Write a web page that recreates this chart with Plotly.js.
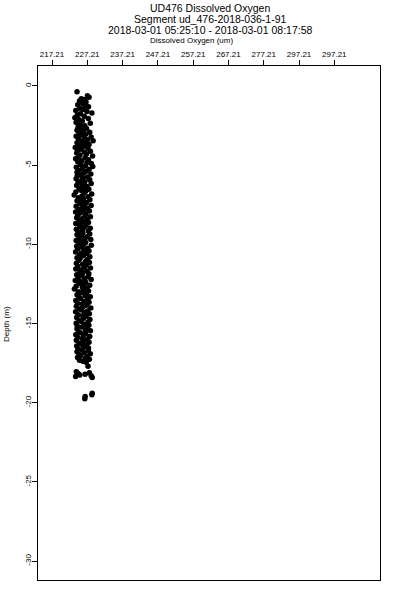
<!DOCTYPE html>
<html>
<head>
<meta charset="utf-8">
<script src="https://cdn.plot.ly/plotly-3.0.1.min.js"></script>
<style>html,body{margin:0;padding:0;background:#fff;}#chart{width:400px;height:600px;}</style>
</head>
<body>
<div id="chart"></div>
<script>
// Depth (m) of each sample
const depth = [
-0.36,-0.62,-0.72,-0.80,-0.86,-0.95,-1.02,-1.10,-1.18,-1.25,
-1.32,-1.40,-1.48,-1.55,-1.62,-1.70,-1.75,-1.85,-1.92,-2.00,
-2.06,-2.14,-2.22,-2.30,-2.36,-2.45,-2.52,-2.60,-2.68,-2.75,
-2.80,-2.86,-2.92,-2.98,-3.05,-3.10,-3.18,-3.22,-3.28,-3.35,
-3.40,-3.46,-3.52,-3.58,-3.64,-3.70,-3.76,-3.82,-3.88,-3.94,
-4.00,-4.06,-4.12,-4.18,-4.24,-4.30,-4.36,-4.42,-4.48,-4.54,
-4.60,-4.66,-4.72,-4.78,-4.84,-4.90,-4.96,-5.02,-5.08,-5.14,
-5.20,-5.26,-5.32,-5.38,-5.44,-5.50,-5.56,-5.62,-5.68,-5.74,
-5.80,-5.86,-5.92,-5.98,-6.04,-6.10,-6.16,-6.22,-6.28,-6.34,
-6.40,-6.46,-6.52,-6.58,-6.64,-6.70,-6.76,-6.82,-6.88,-6.94,
-7.00,-7.06,-7.12,-7.18,-7.24,-7.30,-7.36,-7.42,-7.48,-7.54,
-7.60,-7.66,-7.72,-7.78,-7.84,-7.90,-7.96,-8.02,-8.08,-8.14,
-8.20,-8.26,-8.32,-8.38,-8.44,-8.50,-8.56,-8.62,-8.68,-8.74,
-8.80,-8.86,-8.92,-8.98,-9.04,-9.10,-9.16,-9.22,-9.28,-9.34,
-9.40,-9.46,-9.52,-9.58,-9.64,-9.70,-9.76,-9.82,-9.88,-9.94,
-10.00,-10.06,-10.12,-10.18,-10.24,-10.30,-10.36,-10.42,-10.48,-10.54,
-10.60,-10.66,-10.72,-10.78,-10.84,-10.90,-10.96,-11.02,-11.08,-11.14,
-11.20,-11.26,-11.32,-11.38,-11.44,-11.50,-11.56,-11.62,-11.68,-11.74,
-11.80,-11.86,-11.92,-11.98,-12.04,-12.10,-12.16,-12.22,-12.28,-12.34,
-12.40,-12.46,-12.52,-12.58,-12.64,-12.70,-12.76,-12.82,-12.88,-12.94,
-13.00,-13.06,-13.12,-13.18,-13.24,-13.30,-13.36,-13.42,-13.48,-13.54,
-13.60,-13.66,-13.72,-13.78,-13.84,-13.90,-13.96,-14.02,-14.08,-14.14,
-14.20,-14.26,-14.32,-14.38,-14.44,-14.50,-14.56,-14.62,-14.68,-14.74,
-14.80,-14.86,-14.92,-14.98,-15.04,-15.10,-15.16,-15.22,-15.28,-15.34,
-15.40,-15.46,-15.52,-15.58,-15.64,-15.70,-15.76,-15.82,-15.88,-15.94,
-16.00,-16.06,-16.12,-16.18,-16.24,-16.30,-16.36,-16.42,-16.48,-16.54,
-16.60,-16.66,-16.72,-16.78,-16.84,-16.90,-16.96,-17.02,-17.08,-17.14,
-17.20,-17.26,-17.32,-17.38,-17.44,-17.70,-18.05,-18.15,-18.25,-18.35,
-18.20,-18.10,-18.30,-18.40,-19.40,-19.50,-19.60,-19.75
];
// Dissolved oxygen (um) of each sample
const oxygen = [
224.3,227.25,227.7,225.5,226.45,225.0,226.85,225.9,224.5,226.6,
227.55,225.1,226.1,223.95,227.1,228.5,225.25,224.35,226.35,223.7,
227.5,224.85,225.8,224.05,228.05,225.15,226.5,224.6,227.0,225.55,
224.3,226.05,227.9,224.9,226.75,225.4,224.05,228.3,226.3,224.7,
227.25,228.85,225.7,224.3,226.7,227.7,225.0,226.1,223.8,227.4,
225.5,224.45,228.1,226.45,224.2,227.0,225.15,228.7,224.75,226.6,
223.9,227.55,225.65,224.5,227.15,228.35,225.3,226.7,228.75,224.1,
225.9,227.7,224.85,226.9,224.3,226.2,228.2,225.25,224.35,227.3,
225.95,224.05,227.9,225.5,226.5,224.6,228.3,225.8,224.2,227.1,
226.05,224.9,227.65,225.4,226.75,223.95,226.3,228.45,223.5,225.7,
227.4,224.7,226.1,227.95,224.3,225.55,227.0,225.0,226.45,228.3,
224.05,225.9,227.25,224.75,226.2,227.8,223.9,225.25,226.85,224.5,
226.6,228.1,224.2,225.65,227.15,224.85,226.05,227.55,223.95,225.4,
226.9,225.1,226.35,228.05,224.1,225.8,227.5,224.6,225.95,227.9,
224.3,225.5,227.1,224.9,226.5,228.2,224.05,225.3,226.75,224.7,
226.2,228.35,224.2,225.7,227.3,224.45,226.35,227.7,223.9,225.55,
227.0,225.0,226.1,227.95,224.3,225.15,227.25,224.75,226.7,227.8,
224.1,225.9,226.85,224.5,226.3,228.1,223.95,225.4,227.1,225.1,
225.95,227.65,224.2,225.65,227.4,224.6,226.45,228.3,223.8,225.25,
226.75,224.85,226.2,227.9,224.05,225.8,227.15,223.55,226.05,227.55,
224.7,225.5,226.9,224.3,226.6,228.05,224.9,225.3,227.3,223.95,
226.3,227.7,224.45,225.7,227.0,224.1,225.95,228.2,225.0,225.55,
227.25,223.9,226.5,227.8,224.6,225.9,226.85,224.2,226.1,227.95,
224.85,225.4,227.4,224.05,226.35,227.65,224.35,225.65,227.1,224.3,
226.7,228.1,224.75,225.25,226.75,223.95,226.2,227.9,224.5,225.8,
227.25,224.1,226.05,227.7,224.9,225.5,227.0,224.2,226.45,227.55,
224.6,225.7,227.5,224.3,226.3,228.05,224.85,225.3,227.15,224.45,
226.6,227.8,225.0,225.95,226.9,227.4,224.1,224.6,225.1,223.9,
226.6,227.8,228.3,228.6,228.6,228.5,226.6,226.5
];
// Top-axis tick values and their printed labels (as shown in the source)
const xTickVals = [217.21,227.21,237.21,247.21,257.21,267.21,277.21,287.21,297.21];
const xTickText = ["217.21","227.21","237.21","247.21","257.21","267.21","277.21","297.21","297.21"];
const yTickVals = [0,-5,-10,-15,-20,-25,-30];
const yTickText = ["0","-5","-10","-15","-20","-25","-30"];

const FONT = "Liberation Sans, Arial, Helvetica, sans-serif";

const trace = {
  type: "scatter",
  mode: "markers",
  x: oxygen,
  y: depth,
  marker: {color: "#000000", size: 5.5, line: {width: 0}},
  hoverinfo: "skip"
};

const layout = {
  width: 400,
  height: 600,
  margin: {l: 38, r: 20, t: 66, b: 20, pad: 0},
  paper_bgcolor: "#ffffff",
  plot_bgcolor: "#ffffff",
  showlegend: false,
  font: {family: FONT, color: "#000000", size: 8},
  xaxis: {
    side: "top",
    range: [213.24, 310.15],
    tickmode: "array",
    tickvals: xTickVals,
    ticktext: xTickText,
    ticks: "outside",
    ticklen: 5,
    tickwidth: 1,
    tickcolor: "#000000",
    tickfont: {family: FONT, size: 8, color: "#000000"},
    showline: true,
    linecolor: "#000000",
    linewidth: 1,
    mirror: true,
    showgrid: false,
    zeroline: false,
    automargin: false
  },
  yaxis: {
    range: [-31.19, 1.26],
    tickmode: "array",
    tickvals: yTickVals,
    ticktext: yTickText,
    tickangle: -90,
    ticks: "outside",
    ticklen: 5,
    tickwidth: 1,
    tickcolor: "#000000",
    tickfont: {family: FONT, size: 8, color: "#000000"},
    ticklabelstandoff: -2,
    showline: true,
    linecolor: "#000000",
    linewidth: 1,
    mirror: true,
    showgrid: false,
    zeroline: false,
    automargin: false
  },
  annotations: [
    {text: "UD476 Dissolved Oxygen", xref: "paper", yref: "paper", x: 0.503, y: 1.1128,
     xanchor: "center", yanchor: "middle", showarrow: false, font: {family: FONT, size: 10.5, color: "#000000"}},
    {text: "Segment ud_476-2018-036-1-91", xref: "paper", yref: "paper", x: 0.503, y: 1.0914,
     xanchor: "center", yanchor: "middle", showarrow: false, font: {family: FONT, size: 10.5, color: "#000000"}},
    {text: "2018-03-01 05:25:10 - 2018-03-01 08:17:58", xref: "paper", yref: "paper", x: 0.503, y: 1.0710,
     xanchor: "center", yanchor: "middle", showarrow: false, font: {family: FONT, size: 10.5, color: "#000000"}},
    {text: "Dissolved Oxygen (um)", xref: "paper", yref: "paper", x: 0.45, y: 1.0487,
     xanchor: "center", yanchor: "middle", showarrow: false, font: {family: FONT, size: 8, color: "#000000"}},
    {text: "Depth (m)", xref: "paper", yref: "paper", x: -0.0936, y: 0.498, textangle: -90,
     xanchor: "center", yanchor: "middle", showarrow: false, font: {family: FONT, size: 8, color: "#000000"}}
  ]
};

Plotly.newPlot("chart", [trace], layout, {staticPlot: true, displayModeBar: false});
</script>
</body>
</html>
